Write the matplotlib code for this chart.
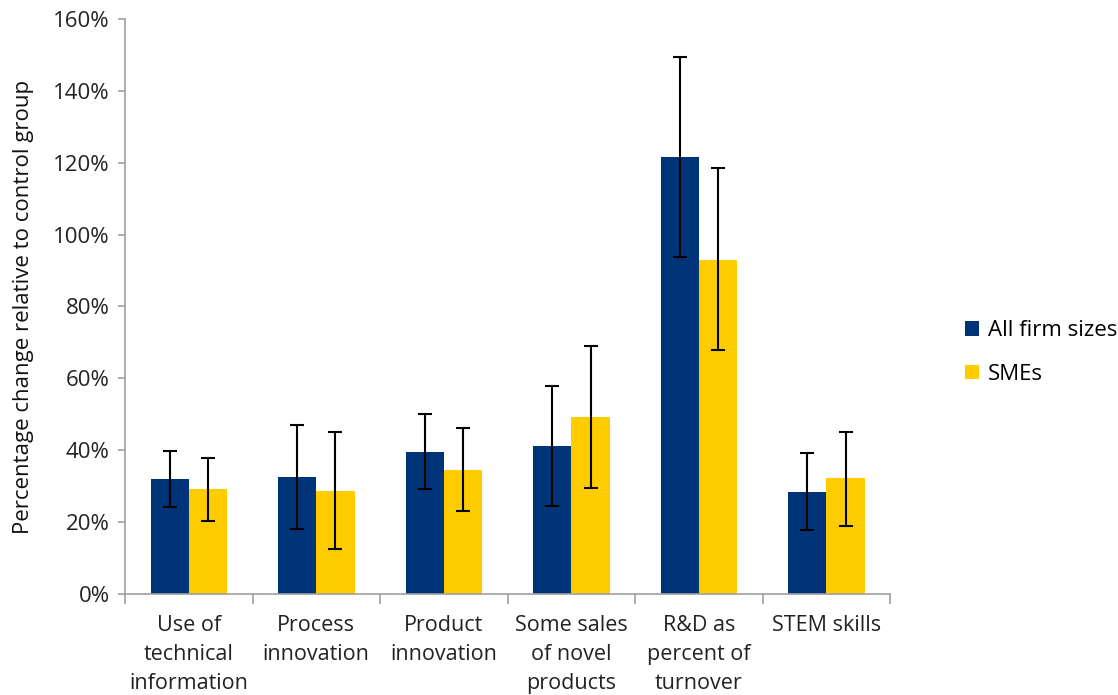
import matplotlib.pyplot as plt
import numpy as np
from matplotlib.ticker import FuncFormatter

plt.rcParams['font.family'] = ['Open Sans', 'DejaVu Sans']

categories = ["Use of\ntechnical\ninformation", "Process\ninnovation", "Product\ninnovation",
              "Some sales\nof novel\nproducts", "R&D as\npercent of\nturnover", "STEM skills"]
all_firms = [31.9, 32.5, 39.5, 41.2, 121.6, 28.5]
all_low = [24.1, 18.2, 29.1, 24.5, 93.7, 17.8]
all_high = [39.9, 46.9, 50.0, 57.8, 149.5, 39.3]
smes = [29.1, 28.7, 34.6, 49.2, 93.0, 32.2]
sme_low = [20.2, 12.4, 23.1, 29.5, 67.8, 19.0]
sme_high = [37.9, 45.0, 46.1, 69.0, 118.4, 45.2]

def main():
    fig = plt.figure(figsize=(11.18, 6.95), dpi=100)
    ax = fig.add_axes([0.1118, 0.1453, 0.6845, 0.8274])

    x = np.arange(len(categories))
    w = 0.3
    blue = "#003478"
    yellow = "#FFCC00"

    err_all = [np.array(all_firms) - np.array(all_low), np.array(all_high) - np.array(all_firms)]
    err_sme = [np.array(smes) - np.array(sme_low), np.array(sme_high) - np.array(smes)]

    ax.bar(x - w / 2, all_firms, w, color=blue, label="All firm sizes", zorder=2)
    ax.bar(x + w / 2, smes, w, color=yellow, label="SMEs", zorder=2)
    ax.errorbar(x - w / 2, all_firms, yerr=err_all, fmt="none", ecolor="black",
                elinewidth=1.5, capsize=5, capthick=1.5, zorder=3)
    ax.errorbar(x + w / 2, smes, yerr=err_sme, fmt="none", ecolor="black",
                elinewidth=1.5, capsize=5, capthick=1.5, zorder=3)

    ax.set_xlim(-0.5, len(categories) - 0.5)
    ax.set_ylim(0, 160)
    ax.set_yticks(np.arange(0, 161, 20))
    ax.yaxis.set_major_formatter(FuncFormatter(lambda v, p: f"{int(v)}%"))

    ax.set_xticks(x)
    ax.set_xticklabels(categories, fontsize=15.5, color="#222222", linespacing=1.5)
    ax.set_xticks(np.arange(-0.5, len(categories), 1), minor=True)
    ax.tick_params(axis="x", which="major", length=0, pad=15)
    ax.tick_params(axis="x", which="minor", length=7, color="#a0a0a0", width=1.2)
    ax.tick_params(axis="y", length=5, color="#a0a0a0", width=1.2, labelsize=16,
                   labelcolor="#222222", pad=6)

    for s in ["top", "right"]:
        ax.spines[s].set_visible(False)
    for s in ["left", "bottom"]:
        ax.spines[s].set_color("#a0a0a0")
        ax.spines[s].set_linewidth(1.2)

    ax.set_ylabel("Percentage change relative to control group", fontsize=16,
                  color="#111111", labelpad=14)

    ax.legend(loc="center left", bbox_to_anchor=(1.072, 0.42), frameon=False,
              fontsize=16, handlelength=0.6, handleheight=0.6, labelspacing=1.0,
              handletextpad=0.4)

    fig.savefig("out.png", dpi=100)


if(__name__ == "__main__"):
    main()
